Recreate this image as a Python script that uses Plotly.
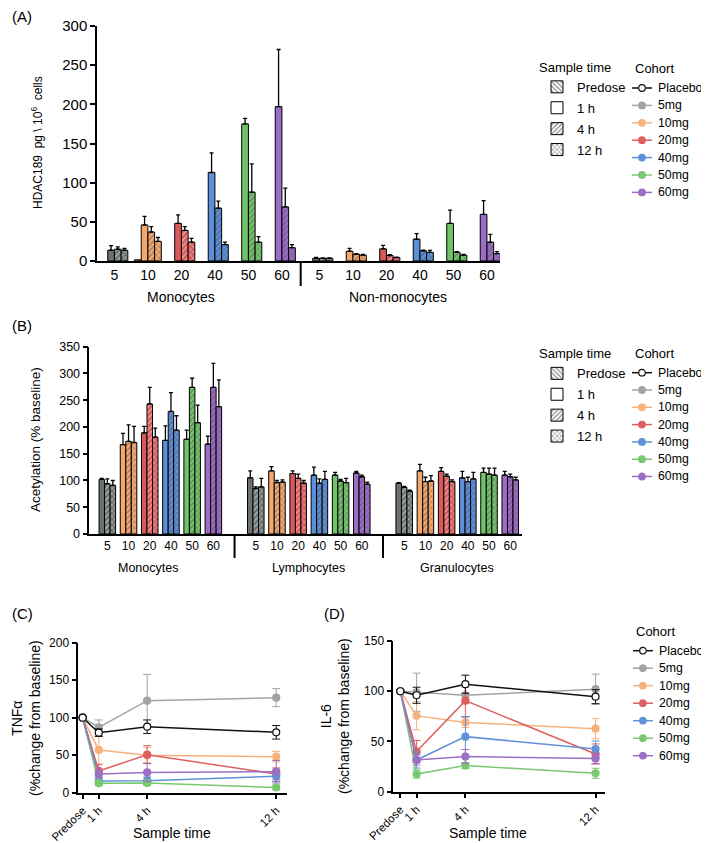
import plotly.graph_objects as go

FONT = "Liberation Sans, Arial, Helvetica, sans-serif"
PAGE_W, PAGE_H = 709, 843
PAGE_OFFSET = 8  # default body margin of the html page
W, H = PAGE_W - PAGE_OFFSET, PAGE_H - PAGE_OFFSET

# ---------------- data ----------------
doses = ["5", "10", "20", "40", "50", "60"]
cohorts = ["Placebo", "5mg", "10mg", "20mg", "40mg", "50mg", "60mg"]
sample_times = ["Predose", "1 h", "4 h", "12 h"]
hours = [0, 1, 4, 12]

# (A) HDAC189 pg / 10^6 cells
a_groups = ["Monocytes", "Non-monocytes"]
a_mono_predose = [None, 1.5, None, None, None, None]
a_mono_1h = [13.7, 46, 48, 113, 175, 197]
a_mono_1h_err = [6, 11, 11, 25, 7, 73]
a_mono_4h = [15, 37, 39, 67.5, 88, 69]
a_mono_4h_err = [3, 7, 5, 9, 36, 24]
a_mono_12h = [13.7, 25, 24, 21, 24, 17]
a_mono_12h_err = [2.5, 5, 5, 3, 7, 4]
a_non_predose = [None, None, None, None, None, None]
a_non_1h = [3.5, 12.5, 15.5, 28, 48, 59.5]
a_non_1h_err = [1, 3.5, 4.5, 7, 17, 17.5]
a_non_4h = [3.5, 8.5, 7, 13, 11, 24]
a_non_4h_err = [0.5, 1, 1, 1, 1, 10]
a_non_12h = [3.5, 7.5, 4.5, 11, 7.5, 9.5]
a_non_12h_err = [0.5, 1, 0.5, 2.5, 1, 2.5]

# (B) Acetylation (% baseline)
b_groups = ["Monocytes", "Lymphocytes", "Granulocytes"]
b_mono_1h = [102, 167, 189, 175, 177, 168]
b_mono_1h_err = [2, 21, 12, 27, 17, 15]
b_mono_4h = [94, 173, 243, 229, 274, 274]
b_mono_4h_err = [9, 31, 31, 35, 17, 45]
b_mono_12h = [91, 171, 181, 194, 208, 238]
b_mono_12h_err = [9, 30, 17, 27, 33, 50]
b_lymph_1h = [105, 118, 113, 110, 110, 114]
b_lymph_1h_err = [13, 8, 5, 15, 5, 3]
b_lymph_4h = [85, 96, 104, 95, 99, 107]
b_lymph_4h_err = [3, 4, 8, 8, 3, 3]
b_lymph_12h = [88, 97, 95, 102, 96, 93]
b_lymph_12h_err = [16, 4, 5, 15, 8, 4]
b_gran_1h = [95, 118, 117, 105, 115, 110]
b_gran_1h_err = [1, 12, 7, 12, 8, 7]
b_gran_4h = [87, 98, 108, 98, 112, 107]
b_gran_4h_err = [2, 8, 4, 8, 11, 5]
b_gran_12h = [80, 99, 98, 103, 110, 101]
b_gran_12h_err = [2, 10, 3, 12, 13, 5]

# (C) TNF-alpha (% change from baseline)
c_placebo = [100, 80, 88, 80.5]
c_placebo_err = [0, 5, 9, 9]
c_5mg = [100, 87, 122.7, 126.7]
c_5mg_err = [0, 10, 35, 12]
c_10mg = [100, 57, 50, 48]
c_10mg_err = [0, 20, 10, 7]
c_20mg = [100, 29, 50.7, 25]
c_20mg_err = [0, 9, 12, 8]
c_40mg = [100, 15.5, 16, 22]
c_40mg_err = [0, 5, 5, 7]
c_50mg = [100, 12.5, 13, 7]
c_50mg_err = [0, 3, 3, 3]
c_60mg = [100, 25, 27, 28]
c_60mg_err = [0, 5, 12, 15]

# (D) IL-6 (% change from baseline)
d_placebo = [100, 96, 107, 94.6]
d_placebo_err = [0, 8, 9, 7]
d_5mg = [100, 99, 96, 102]
d_5mg_err = [0, 19, 8, 15]
d_10mg = [100, 75.7, 69, 62.7]
d_10mg_err = [0, 14, 5, 10]
d_20mg = [100, 40, 90.6, 37.5]
d_20mg_err = [0, 11, 16, 10]
d_40mg = [100, 31.5, 54.8, 42.5]
d_40mg_err = [0, 8, 20, 8]
d_50mg = [100, 17.6, 26, 18.3]
d_50mg_err = [0, 4, 3, 5]
d_60mg = [100, 31.5, 35, 33]
d_60mg_err = [0, 5, 7, 5]

# ---------------- styles ----------------
bar_colors = ["#6b7272", "#f4a86e", "#d9585a", "#5d8fd9", "#72c46a", "#9c6cc6"]
line_colors = ["#111111", "#a3a3a3", "#f6b27c", "#de5f5f", "#6191d9", "#7ac870", "#9b6fc4"]
patterns = {"Predose": "\\", "1 h": "", "4 h": "/", "12 h": "x"}


def px_x(p):
    return (p - PAGE_OFFSET) / W


def px_y(p):
    return 1 - (p - PAGE_OFFSET) / H


fig = go.Figure()


def positions(n_groups, gap):
    return [g * (len(doses) + gap) + d for g in range(n_groups) for d in range(len(doses))]


def add_bars(xpos, times, vals, errs, bw, xa, ya):
    n = len(times)
    for k, t in enumerate(times):
        err = errs[k]
        ey = None
        if err is not None:
            ey = dict(type="data", array=err, arrayminus=[0] * len(err), symmetric=False,
                      color="black", thickness=1.3, width=2)
        fig.add_trace(go.Bar(
            x=xpos, y=vals[k], width=bw, offset=-n * bw / 2 + k * bw,
            xaxis=xa, yaxis=ya, showlegend=False,
            marker=dict(color=bar_colors * (len(xpos) // len(doses)),
                        line=dict(color="black", width=1),
                        pattern=dict(shape=patterns[t], fgcolor="black", fillmode="overlay",
                                     size=4, solidity=0.3)),
            error_y=ey, hoverinfo="skip"))


# ---- Panel A ----
gap_a = 0.12
xa_pos = positions(len(a_groups), gap_a)
a_times = ["Predose", "1 h", "4 h", "12 h"]
a_vals = [a_mono_predose + a_non_predose, a_mono_1h + a_non_1h,
          a_mono_4h + a_non_4h, a_mono_12h + a_non_12h]
a_errs = [None, a_mono_1h_err + a_non_1h_err, a_mono_4h_err + a_non_4h_err,
          a_mono_12h_err + a_non_12h_err]
add_bars(xa_pos, a_times, a_vals, a_errs, 0.2, "x", "y")

# ---- Panel B ----
gap_b = 1.0
xb_pos = positions(len(b_groups), gap_b)
b_times = ["1 h", "4 h", "12 h"]
b_vals = [b_mono_1h + b_lymph_1h + b_gran_1h, b_mono_4h + b_lymph_4h + b_gran_4h,
          b_mono_12h + b_lymph_12h + b_gran_12h]
b_errs = [b_mono_1h_err + b_lymph_1h_err + b_gran_1h_err,
          b_mono_4h_err + b_lymph_4h_err + b_gran_4h_err,
          b_mono_12h_err + b_lymph_12h_err + b_gran_12h_err]
add_bars(xb_pos, b_times, b_vals, b_errs, 0.26, "x2", "y2")

# ---- sample-time legends for bar panels (legend keys only) ----
for leg, xa, ya in (("legend", "x", "y"), ("legend2", "x2", "y2")):
    for t in sample_times:
        fig.add_trace(go.Bar(
            x=[None], y=[None], name=t, legend=leg, legendgroup=leg + t, xaxis=xa, yaxis=ya,
            marker=dict(color="white", line=dict(color="black", width=1),
                        pattern=dict(shape=patterns[t], fgcolor="black", fillmode="overlay",
                                     size=4, solidity=0.35))))

# ---- Panels C and D ----
c_series = [c_placebo, c_5mg, c_10mg, c_20mg, c_40mg, c_50mg, c_60mg]
c_errs = [c_placebo_err, c_5mg_err, c_10mg_err, c_20mg_err, c_40mg_err, c_50mg_err, c_60mg_err]
d_series = [d_placebo, d_5mg, d_10mg, d_20mg, d_40mg, d_50mg, d_60mg]
d_errs = [d_placebo_err, d_5mg_err, d_10mg_err, d_20mg_err, d_40mg_err, d_50mg_err, d_60mg_err]

for series, errs, xa, ya in ((c_series, c_errs, "x3", "y3"), (d_series, d_errs, "x4", "y4")):
    order = list(range(1, len(cohorts))) + [0]
    for i in order:
        fig.add_trace(go.Scatter(
            x=hours, y=series[i], name=cohorts[i], xaxis=xa, yaxis=ya,
            mode="lines+markers", showlegend=False, cliponaxis=False,
            line=dict(color=line_colors[i], width=1.5),
            marker=dict(size=7, color="white" if i == 0 else line_colors[i],
                        line=dict(color=line_colors[i], width=1.2)),
            error_y=dict(type="data", array=errs[i], color=line_colors[i],
                         thickness=1, width=4)))

# ---------------- layout ----------------
axis_common = dict(showline=True, linecolor="black", linewidth=1.5, showgrid=False,
                   zeroline=False, tickcolor="black", tickwidth=1.5, automargin=False,
                   tickfont=dict(family=FONT, color="black"))

layout = dict(
    width=W, height=H, margin=dict(l=0, r=0, t=0, b=0, autoexpand=False),
    paper_bgcolor="white", plot_bgcolor="white", barmode="overlay",
    font=dict(family=FONT, color="black", size=13),
    xaxis=dict(axis_common, domain=[px_x(97), px_x(500)], anchor="y",
               range=[-0.52, 11.51], tickvals=xa_pos, ticktext=doses * len(a_groups),
               ticks="", tickfont=dict(family=FONT, size=14, color="black")),
    yaxis=dict(axis_common, domain=[px_y(261), px_y(26)], anchor="x",
               range=[0, 300], dtick=50, ticks="outside", ticklen=5,
               tickfont=dict(family=FONT, size=15, color="black")),
    xaxis2=dict(axis_common, domain=[px_x(89.3), px_x(521.7)], anchor="y2",
                range=[-0.85, 19.54], tickvals=xb_pos, ticktext=doses * len(b_groups),
                ticks="", tickfont=dict(family=FONT, size=12, color="black")),
    yaxis2=dict(axis_common, domain=[px_y(534), px_y(346.7)], anchor="x2",
                range=[0, 350], dtick=50, ticks="outside", ticklen=5,
                tickfont=dict(family=FONT, size=12.5, color="black")),
    xaxis3=dict(axis_common, domain=[px_x(78.3), px_x(286.7)], anchor="y3",
                range=[-0.27, 12.65], tickvals=hours, ticktext=sample_times,
                tickangle=-45, ticks="outside", ticklen=5,
                tickfont=dict(family=FONT, size=11.5, color="black")),
    yaxis3=dict(axis_common, domain=[px_y(792.7), px_y(642.7)], anchor="x3",
                range=[0, 200], dtick=50, ticks="outside", ticklen=5,
                tickfont=dict(family=FONT, size=12, color="black")),
    xaxis4=dict(axis_common, domain=[px_x(393.3), px_x(605)], anchor="y4",
                range=[-0.43, 12.58], tickvals=hours, ticktext=sample_times,
                tickangle=-45, ticks="outside", ticklen=5,
                tickfont=dict(family=FONT, size=11.5, color="black")),
    yaxis4=dict(axis_common, domain=[px_y(791.7), px_y(641)], anchor="x4",
                range=[0, 150], dtick=50, ticks="outside", ticklen=5,
                tickfont=dict(family=FONT, size=12, color="black")),
)

leg_common = dict(bgcolor="rgba(0,0,0,0)", xanchor="left", yanchor="top",
                  font=dict(family=FONT, size=13, color="black"), itemclick=False,
                  itemdoubleclick=False, tracegroupgap=1)
layout["legend"] = dict(leg_common, x=px_x(537), y=px_y(55),
                        title=dict(text="Sample time", font=dict(family=FONT, size=13)))
layout["legend2"] = dict(leg_common, x=px_x(537), y=px_y(341.5),
                         title=dict(text="Sample time", font=dict(family=FONT, size=13)))
fig.update_layout(**layout)

shapes = []
annotations = []


# ---- cohort legends (keys drawn in paper space) ----
def cohort_key(x_title, y_title, x_line, y_first, step):
    annotations.append(dict(text="Cohort", x=px_x(x_title), y=px_y(y_title), xref="paper",
                            yref="paper", showarrow=False, xanchor="left", yanchor="middle",
                            font=dict(family=FONT, size=13)))
    for i, c in enumerate(cohorts):
        cy = y_first + i * step
        col = line_colors[i]
        shapes.append(dict(type="line", xref="paper", yref="paper", x0=px_x(x_line),
                           x1=px_x(x_line + 20), y0=px_y(cy), y1=px_y(cy),
                           line=dict(color=col, width=1.5)))
        cx = x_line + 10
        shapes.append(dict(type="circle", xref="paper", yref="paper",
                           x0=px_x(cx - 3.3), x1=px_x(cx + 3.3), y0=px_y(cy + 3.3),
                           y1=px_y(cy - 3.3), fillcolor="white" if i == 0 else col,
                           line=dict(color=col, width=1.2)))
        annotations.append(dict(text=c, x=px_x(x_line + 24), y=px_y(cy), xref="paper",
                                yref="paper", showarrow=False, xanchor="left",
                                yanchor="middle", font=dict(family=FONT, size=12.3)))


cohort_key(633, 68.3, 632, 88, 17.4)
cohort_key(633, 353.3, 632, 372.7, 17.3)
cohort_key(634, 631.7, 633, 650.7, 17.5)


# ---- separators and group labels ----
def group_decor(xpos, groups, label_at, xref, y0, y1, ylab, size):
    n = len(doses)
    for g in range(len(groups)):
        annotations.append(dict(text=groups[g], x=xpos[g * n] + label_at[g], xref=xref,
                                y=px_y(ylab), yref="paper", showarrow=False,
                                xanchor="center", yanchor="middle",
                                font=dict(family=FONT, size=size)))
        if g > 0:
            sep = (xpos[g * n - 1] + xpos[g * n]) / 2
            shapes.append(dict(type="line", xref=xref, yref="paper", x0=sep, x1=sep,
                               y0=px_y(y0), y1=px_y(y1), line=dict(color="black", width=2)))


group_decor(xa_pos, a_groups, [2.0, 2.35], "x", 262, 286, 297, 14)
group_decor(xb_pos, b_groups, [1.94, 2.5, 2.5], "x2", 535, 558, 568, 12.5)

# panel letters
for lab, x, y in (("(A)", 10, 17), ("(B)", 10, 325), ("(C)", 10, 613), ("(D)", 322, 613)):
    annotations.append(dict(text=lab, x=px_x(x), y=px_y(y), xref="paper", yref="paper",
                            xanchor="left", yanchor="middle", showarrow=False,
                            font=dict(family=FONT, size=15)))

# axis titles
annotations.append(dict(text="HDAC189  pg \\ 10<sup>6</sup>  cells", x=px_x(37), y=px_y(143),
                        xref="paper", yref="paper", textangle=-90, showarrow=False,
                        xanchor="center", yanchor="middle", font=dict(family=FONT, size=12)))
annotations.append(dict(text="Acetylation (% baseline)", x=px_x(35), y=px_y(440),
                        xref="paper", yref="paper", textangle=-90, showarrow=False,
                        xanchor="center", yanchor="middle", font=dict(family=FONT, size=13.5)))
annotations.append(dict(text="TNF\u03b1<br>(%change from baseline)", x=px_x(26), y=px_y(718),
                        xref="paper", yref="paper", textangle=-90, showarrow=False,
                        xanchor="center", yanchor="middle", font=dict(family=FONT, size=14)))
annotations.append(dict(text="IL-6<br>(%change from baseline)", x=px_x(335), y=px_y(716),
                        xref="paper", yref="paper", textangle=-90, showarrow=False,
                        xanchor="center", yanchor="middle", font=dict(family=FONT, size=14)))
for x in (172, 488):
    annotations.append(dict(text="Sample time", x=px_x(x), y=px_y(833), xref="paper",
                            yref="paper", showarrow=False, xanchor="center", yanchor="middle",
                            font=dict(family=FONT, size=14)))

fig.update_layout(shapes=shapes, annotations=annotations)
fig.write_html("out.html")
